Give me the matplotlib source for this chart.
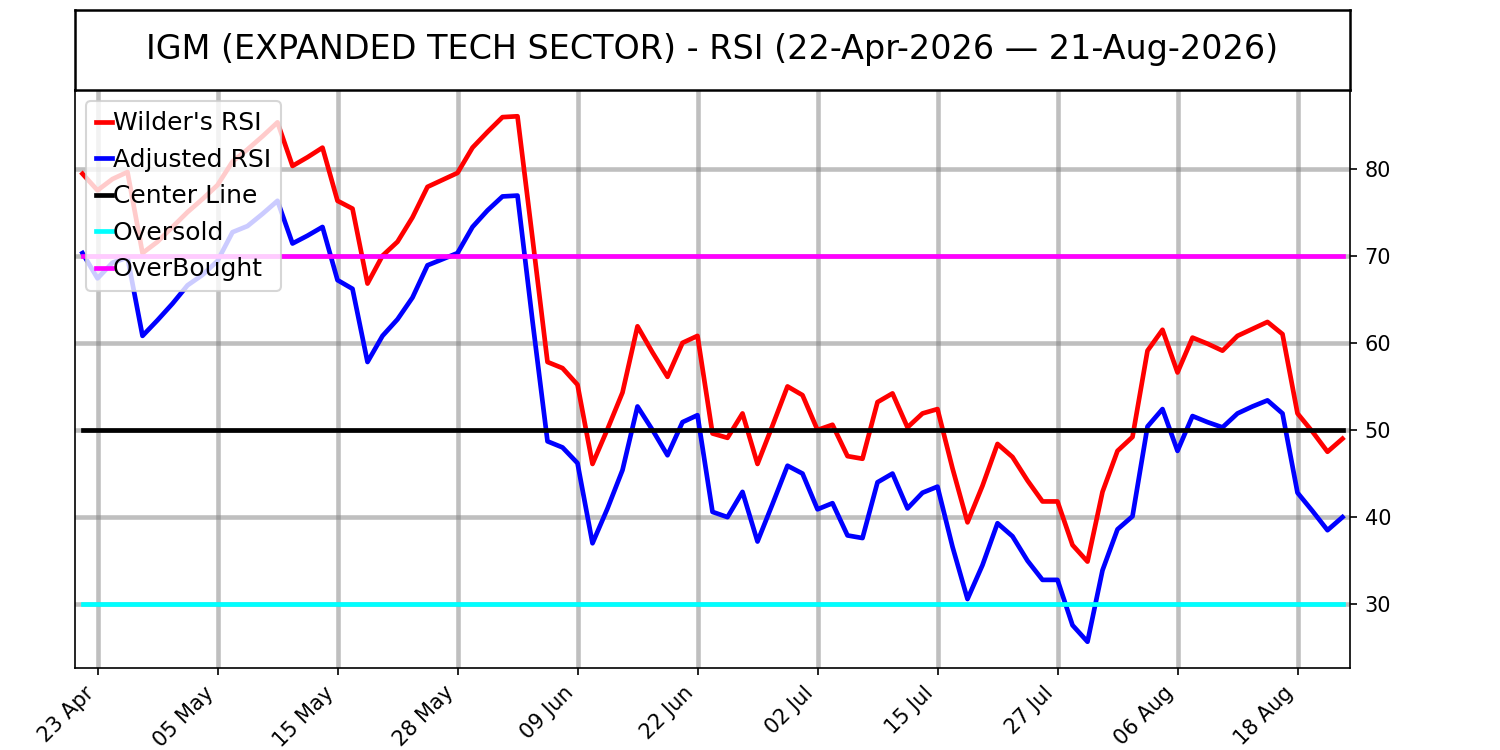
import matplotlib
matplotlib.use("Agg")
import matplotlib.pyplot as plt
import numpy as np
import pandas as pd

# ---- data ----
holidays = ["2026-05-25", "2026-06-19", "2026-07-03"]
dates = pd.bdate_range("2026-04-22", "2026-08-21", freq="C", holidays=holidays)

wilder_rsi = [
    79.4, 77.5, 78.8, 79.6, 70.3, 71.6, 73.3, 75.0, 76.5, 78.1,
    80.8, 82.2, 83.7, 85.3, 80.3, 81.3, 82.4, 76.3, 75.4, 66.8,
    70.0, 71.6, 74.4, 77.9, 78.7, 79.5, 82.4, 84.2, 85.9, 86.0,
    72.0, 57.8, 57.1, 55.2, 46.1, 50.1, 54.3, 61.9, 58.9, 56.1,
    60.0, 60.8, 49.6, 49.1, 51.9, 46.1, 50.5, 55.0, 54.0, 50.0,
    50.6, 47.0, 46.7, 53.2, 54.2, 50.3, 51.9, 52.4, 45.6, 39.4,
    43.6, 48.4, 46.9, 44.2, 41.8, 41.8, 36.8, 34.9, 42.9, 47.6,
    49.2, 59.1, 61.5, 56.6, 60.6, 59.9, 59.1, 60.8, 61.6, 62.4,
    61.0, 51.9, 49.8, 47.5, 49.0,
]
adjusted_rsi = [
    70.3, 67.4, 69.2, 69.8, 60.8, 62.6, 64.5, 66.6, 67.8, 69.4,
    72.7, 73.4, 74.8, 76.3, 71.4, 72.3, 73.3, 67.2, 66.2, 57.8,
    60.8, 62.7, 65.2, 68.9, 69.6, 70.3, 73.3, 75.2, 76.8, 76.9,
    62.5, 48.7, 48.0, 46.2, 37.0, 41.0, 45.4, 52.7, 50.0, 47.1,
    50.9, 51.7, 40.6, 40.0, 42.9, 37.2, 41.5, 45.9, 45.0, 40.9,
    41.6, 37.9, 37.6, 44.0, 45.0, 41.0, 42.8, 43.5, 36.6, 30.6,
    34.5, 39.3, 37.8, 35.0, 32.8, 32.8, 27.6, 25.7, 33.9, 38.6,
    40.1, 50.4, 52.4, 47.6, 51.6, 50.9, 50.3, 51.9, 52.7, 53.4,
    51.9, 42.8, 40.7, 38.5, 40.0,
]
center_level = 50
oversold_level = 30
overbought_level = 70
title_text = "IGM (EXPANDED TECH SECTOR) - RSI (22-Apr-2026 \u2014 21-Aug-2026)"

# ---- plot ----
fig = plt.figure(figsize=(10, 5), dpi=150)
ax = fig.add_axes([0.05, 0.1093, 0.85, 0.7707])
tax = fig.add_axes([0.05, 0.88, 0.85, 0.1067])

LW = 2.25
x = np.arange(len(dates))
ax.plot(x, wilder_rsi, color="red", lw=LW, label="Wilder's RSI")
ax.plot(x, adjusted_rsi, color="blue", lw=LW, label="Adjusted RSI")
ax.plot(x, [center_level] * len(x), color="black", lw=LW, label="Center Line")
ax.plot(x, [oversold_level] * len(x), color="cyan", lw=LW, label="Oversold")
ax.plot(x, [overbought_level] * len(x), color="magenta", lw=LW, label="OverBought")

ax.set_xlim(-0.5, len(x) - 0.5)
tick_idx = list(range(1, len(x), 8))
ax.set_xticks(tick_idx)
ax.set_xticklabels([dates[i].strftime("%d %b") for i in tick_idx], rotation=45, ha="right")
ax.yaxis.tick_right()
ax.grid(True, color="gray", alpha=0.5, lw=2.2)

ax.legend(loc="upper left", handlelength=0.62, handletextpad=0.05, fontsize=12,
          borderaxespad=0.45)

tax.set_xticks([])
tax.set_yticks([])
for s in tax.spines.values():
    s.set_linewidth(1.2)
tax.text(0.5, 0.5, title_text, ha="center", va="center", fontsize=16, transform=tax.transAxes)

fig.savefig("out.png", dpi=150)
